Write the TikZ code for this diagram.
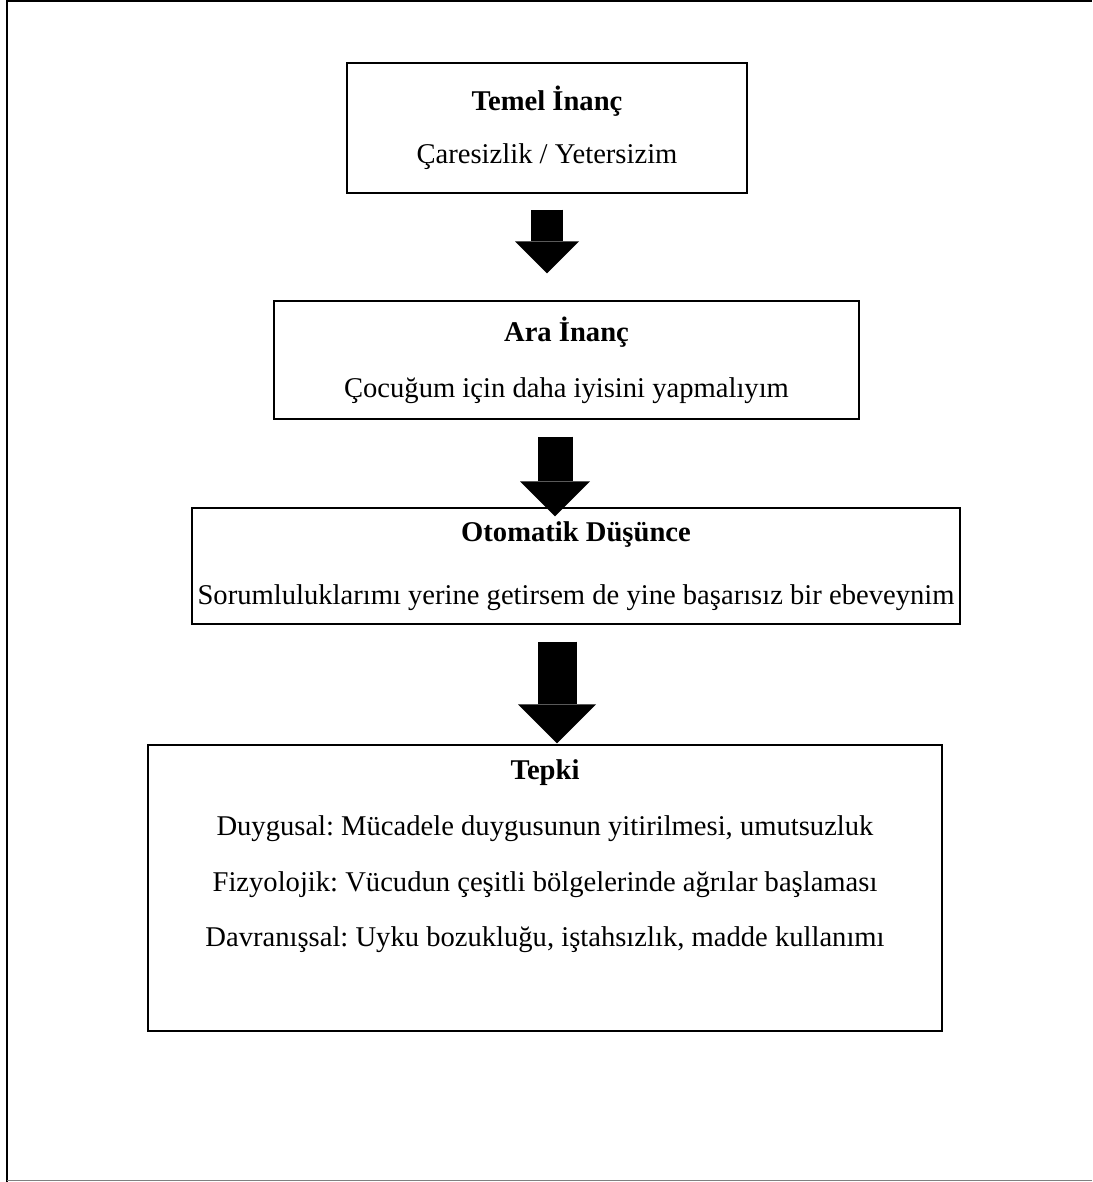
\documentclass[tikz,border=0pt]{standalone}
\usepackage{fontspec}
\setmainfont{Liberation Serif}
\frenchspacing
\usetikzlibrary{arrows.meta,positioning}

\begin{document}
\begin{tikzpicture}[x=1pt, y=-1pt]
\tikzstyle{box}=[rectangle, draw=black, line width=1.3pt, inner sep=0pt]
\tikzstyle{txt}=[align=center, inner sep=0pt, font=\fontsize{28.6}{33}\selectfont]
\tikzstyle{connect}=[line width=#1, -{Triangle[width=0pt 2, length=0pt 1, line width=0pt]}]
  \useasboundingbox (0,0) rectangle (1092,1182);
  % frame
  \draw[line width=2.5pt] (7,1182) -- (7,1) -- (1092,1);
  \draw[gray, line width=1pt] (7,1180.5) -- (1092,1180.5);
  % boxes
  \node[box, minimum width=400pt, minimum height=130pt] (temel) at (547,128) {};
  \node[box, minimum width=585pt, minimum height=118pt] (ara) at (566.5,360) {};
  \node[box, minimum width=768pt, minimum height=116pt] (otomatik) at (576,566) {};
  \node[box, minimum width=794pt, minimum height=286pt] (tepki) at (545,888) {};
  % texts
  \node[txt] (temeltxt) at (temel) {\textbf{Temel İnanç}\\[20pt] Çaresizlik / Yetersizim};
  \node[txt] (aratxt) at (ara) {\textbf{Ara İnanç}\\[23pt] Çocuğum için daha iyisini yapmalıyım};
  \node[txt] (otomatiktxt) at (otomatik) {\textbf{Otomatik Düşünce}\\[30pt] Sorumluluklarımı yerine getirsem de yine başarısız bir ebeveynim};
  \node[txt] (tepkitxt) at (545,856.5) {\textbf{Tepki}\\[22.7pt]
     Duygusal: Mücadele duygusunun yitirilmesi, umutsuzluk\\[22.7pt]
     Fizyolojik: Vücudun çeşitli bölgelerinde ağrılar başlaması\\[22.7pt]
     Davranışsal: Uyku bozukluğu, iştahsızlık, madde kullanımı};
  % arrows
  \draw[connect=32pt] ([yshift=-16pt]temel.south) -- ([xshift=-19.5pt, yshift=27pt]ara.north);
  \draw[connect=35pt] ([xshift=-11.5pt, yshift=-17pt]ara.south) -- ([xshift=-21pt, yshift=-9pt]otomatik.north);
  \draw[connect=39pt] ([xshift=-19pt, yshift=-17pt]otomatik.south) -- ([xshift=12pt, yshift=1pt]tepki.north);
\end{tikzpicture}
\end{document}
